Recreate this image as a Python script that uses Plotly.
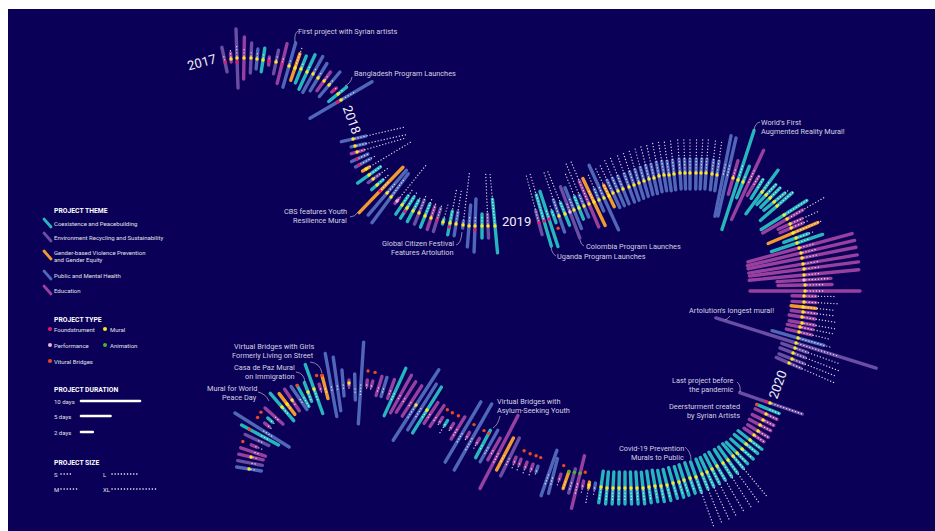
import math
import plotly.graph_objects as go

# ---- timeline sections: spine position of each project, direction of its bar (degrees),
# ---- bar reach either side, reach of the size dots, theme letter and type letter
y2017_x = [225,231,237,244,251,257,263,269,276,282,289,295,301,307,313,318,324,329,334,338,341]
y2017_y = [62,59,58,58,58,59,60,61,62,64,66,68,69,72,74,78,81,85,90,94,100]
y2017_angle = [102,94,92,89,87.5,85,81.5,85,78,76,74,71,68,65,61,58.5,54,50,40,39,30.5]
y2017_up = [15,6,29,21,15,10,12,4,12,21,24,15,14,19,20,17,11,17,3,11,36]
y2017_dn = [10,3,30,21,15,10,12,4,12,20,22,13,15,19,21,15,12,15,3,12,36]
y2017_dots = [8,10,14,10,8,6,6,4,6,8,8,23,8,8,8,8,6,8,5,6,16]
y2017_theme = "EDEDEHCDEDHGCCHHDHDCH"
y2017_type = "FMXMMMMFMFMMMMMMMMFMX"

y2018_x = [353,355,357,357,359,366,369,373,377,380,387,391,397,402,407,413,419,425,431,437,443,450,456,463,469,475,482,488,495]
y2018_y = [139,146,152,159,165,169,175,179,185,191,193,197,201,205,208,211,213,216,218,220,222,223,224,225,226,226,226,226,226]
y2018_angle = [13,12.5,16,24,29,31,35.5,36,41,46,49.5,53.5,51,55.7,57.6,61.7,68,68,71.8,72.5,74,79,81,83,85.4,88,90,92.5,95.4]
y2018_up = [13,11,7,12,13,4,14,8,8,33,30,29,3,11,13,12,14,13,12,12,3,12,12,4,21,27,12,12,27]
y2018_dn = [12,4,6,6,4,4,14,6,7,30,29,32,3,11,12,12,12,12,12,12,2,12,12,3,21,26,12,12,27]
y2018_dots = [52,52,50,12,19,52,17,18,16,12,12,22,48,18,20,17,18,18,17,17,18,34,35,52,10,10,10,53,53]
y2018_theme = "HHDHHGCECGHHDCCCECDECCHHHHCEC"
y2018_type = "MMMFFMMMMFMMPMXMMMMFMXMMMXMMM"

y2019_x = [539,544,549,554,559,565,570,574,579,584,589,594,599,604,609,
           613,618,623,629,634,639,644,649,654,659,664,669,674,680,685,690,696,701,706,712,717,
           723,727,733,738,743,
           748,753,757,762,766,770,774,777,784,787,790,791,793,796,797,799,801,802,803,804,
           804,804,805,805,804,804,803,803,802,802,800,799,798,796,795,793,792,789]
y2019_y = [223,221,219,217,216,214,212,210,208,206,204,202,200,198,196,
           193,191,189,187,185,183,181,179,178,176,175,175,174,173,173,173,173,173,173,174,175,
           176,177,178,180,182,
           184,186,189,192,195,198,202,206,215,219,224,228,233,238,243,248,253,258,264,269,
           275,280,285,291,296,302,307,312,317,323,327,332,338,343,348,353,359,363]
y2019_angle = [105,106.4,108,110,109,112,110.6,112,111.7,113,113,115.4,113,114.5,116,
               115,113.5,112,110,108.5,107,105.5,104,102.5,101,99.5,98,96,94,92,90,89,87,86,84,82,
               78.7,77,74,72,68,
               65.2,59,58,53.8,46.5,45,39.4,41,32.5,30,24,23,22.9,19.6,18.5,15.2,13.2,11.3,9.5,7.4,
               5.5,3.5,1,0,-1,-3,-6,-7,-9,-10,-11.6,-13.1,-15.8,-17.4,-19.5,-21.2,-21.4,-23.6]
y2019_up = [13,27,29,6,17,12,27,24,12,12,25,26,12,36,12,
            14,14,14,14,14,14,14,14,14,14,14,14,14,14,14,14,14,14,14,14,14,
            41,40,18,52,17,
            37,11,11,27,14,14,14,20,27,18,13,13,27,13,27,55,55,55,55,55,
            55,27,27,55,12,12,13,13,13,13,13,13,27,84,13,13,13,13]
y2019_dn = [12,26,29,6,17,12,28,20,12,12,25,26,12,35,12,
            16,16,16,16,16,16,16,16,16,16,16,16,16,16,16,16,16,16,16,16,16,
            41,40,17,52,17,
            39,11,11,27,13,13,13,22,27,28,13,12,27,13,27,53,55,55,55,55,
            55,27,27,55,12,12,12,12,13,13,13,13,27,84,14,14,14,14]
y2019_dots = [49,50,10,12,48,47,10,12,37,47,47,12,28,12,32,
              31,33,33,34,34,35,35,35,35,35,35,35,35,35,35,35,35,35,34,34,33,
              14,14,10,16,8,
              15,13,14,12,16,16,18,22,27,44,30,18,31,18,12,16,16,16,16,16,
              16,24,18,19,33,35,33,33,35,33,33,33,35,45,48,50,47,50]
y2019_theme = ("ECCCHCEHCHDGHHG" "HHHHHHHHHHHHHHHHHHHHH" "HHDCC"
               "DDCCCCCCCDDDGCC" "DDDDDDDDDDD" "G" "DDDDD" "H" "EEEEE")
y2019_type = ("FFFVMMPMMMMMMMM" "MMMMMMMMMMMMMMMMMMMMM" "NNMMM"
              "NNNMMMMMMMMMMMM" "MMMMMMPMMMM" "M" "MMMMM" "M" "MMMMM")

y2020_x = [770,768,766,763,760,758,754,750,746,742,737,733,728,723,717,712,707,702,696,690,684,679,673,667,661,655,649,643,637,631,625,619,613,607,601]
y2020_y = [403,409,414,420,425,431,435,440,444,449,453,456,460,463,466,469,472,474,477,478,480,482,483,485,486,486,487,488,488,488,488,488,488,488,487]
y2020_angle = [-18.9,-21.8,-25.5,-26.6,-27.9,-31.6,-34.3,-38,-39,-41.4,-45,-50,-54,-57.5,-59.4,-62.8,-65,-68,-70.3,-71,-72,-73,-74,-76,-78,-80,-82,-84,-86,-88,-90,-91,-93,-95,-98]
y2020_up = [34,12,12,12,12,12,12,15,15,15,15,16,16,16,16,16,16,16,16,16,16,16,16,16,16,16,16,16,16,16,16,16,16,16,16]
y2020_dn = [32,12,12,12,12,12,12,15,15,15,15,16,16,16,16,16,16,16,16,16,16,16,16,16,16,16,16,16,16,16,16,16,16,16,16]
y2020_dots = [34,12,12,12,12,12,12,14,14,14,14,53,53,53,53,53,53,53,53,14,14,14,14,14,14,14,14,14,14,14,14,14,14,14,14]
y2020_theme = "ECDDDDD" "CCCCCCCCCCCCCCCCCCCCCCCCCCCC"
y2020_type = "XVMMMMM" "MMMMMMMMMMMMMMMMMMMMMMMMMMMM"

late_x = [595,589,583,578,572,566,560,553,549,537,532,526,520,515,510,505,499,494,489,483,478,473,468,463,458,452,446,441,437,431,427,422,416,412,406,401,395,391,384,379,372,367,361,355,349,343,337,331,325,320,314,308,303,299,292,287,282,274,270,267,262,260,257,254,253,251,250,249]
late_y = [486,485,484,482,481,480,477,476,473,469,467,465,462,460,457,454,452,449,446,444,441,437,435,432,428,426,423,420,416,413,410,407,405,401,397,394,392,389,387,386,384,383,383,387,383,383,384,385,387,387,389,392,396,398,400,404,407,416,420,425,430,435,440,446,452,457,463,469]
late_angle = [-100,-100,-101,-103.8,-105.5,-108.8,-108,-104.4,-109.2,-108,
              -110,-110,-110,-110,-116,-117.8,-117.5,-119.7,-119.2,-118.2,
              -120,-119.6,-120,-120.7,-121.6,-122,-122,-122,-124,-123.7,
              -122.2,-122,-122.9,-122.8,-122.3,-119,-114.6,-110,-107,-107,
              -105,-95,-93.7,-88.6,-90,-85.5,-82,-79.6,-75.6,-73.6,
              -70.3,-69,-61,-55.6,-55.7,-52.8,-49.5,-41.8,-41,-38.7,
              -32.2,-28.6,-24.9,-22,-18.9,-13,-10.7,-9]
late_reach = [3,3,3,27,12.5,9,3,18,24,3,3,3,3,3,21,18,41,12.5,18,15.5,3,38,3,35,13,3,3,3,12.5,12.5,27,27,42,18,18,21.5,26,10,10,10,3,3,41,13,3,13,27,32,12,3,26,10,12,14,13,13,18,12,3,3,32,21,13,3,13,12.5,12.5,12.5]
late_dots = [11,18,9,14,10,9,9,10,12,8,9,9,10,9,10,10,14,8,10,8,9,16,8,14,10,8,14,8,8,8,10,12,16,8,8,8,10,8,8,8,8,8,13,8,8,8,8,8,8,8,12,10,12,8,8,8,10,8,8,8,12,10,8,9,8,8,8,8]
late_theme = "HGDDEGDHHH" "DDDDEGDDHC" "DHDHDDCDDD" "CHHDDDCDHD" "DDHHDHHHGD" "CCCHDGCDCD" "HCEDDDEH"
late_type = "NMVAAAVNNV" "VVVNNNNNNV" "VNVNNVVVNN" "MNMNNNNNNN" "VVNNMNNNVV" "MMVNMMMNVV" "NVNVNMNM"

theme_names = ["Coexistence and Peacebuilding", "Environment Recycling and Sustainability",
               "Gender-based Violence Prevention", "and Gender Equity",
               "Public and Mental Health", "Education"]
type_names = ["Foundstrument", "Mural", "Performance", "Animation", "Vitural Bridges"]
duration_days = [10, 5, 2]
size_names = ["S", "L", "M", "XL"]

# ---- styles
NAVY = "#0a0058"
THEME = {"C": "#27b6bd", "E": "#6a4ea3", "G": "#f29a30", "H": "#5067b9", "D": "#97409f"}
TYPE = {"M": "#ffe61e", "F": "#e8186f", "P": "#efb6dc", "A": "#4fb233", "V": "#f0481f"}
TYPE_OFFSET = {"M": 0, "F": 0, "P": 0, "A": -9, "V": -12}
TXT = "#d2d2e0"
BAR_W = 3.4
DOT_DASH = "0.1px,3px"

fig = go.Figure()
theme_xy = {k: ([], []) for k in THEME}
dots_x, dots_y = [], []
marks = {k: ([], []) for k in TYPE}


def add_section(xs, ys, angles, ups, dns, dots, themes, types):
    for i in range(len(xs)):
        a = math.radians(angles[i])
        nx, ny = math.cos(a), -math.sin(a)
        bx, by = theme_xy[themes[i]]
        bx += [xs[i] - nx * dns[i], xs[i] + nx * ups[i], None]
        by += [ys[i] - ny * dns[i], ys[i] + ny * ups[i], None]
        dots_x.extend([xs[i] + nx * 2, xs[i] + nx * dots[i], None])
        dots_y.extend([ys[i] + ny * 2, ys[i] + ny * dots[i], None])
        t = types[i]
        if t == "X":
            marks["M"][0].append(xs[i]); marks["M"][1].append(ys[i])
            marks["F"][0].append(xs[i] - nx * 4); marks["F"][1].append(ys[i] - ny * 4)
        elif t != "N":
            off = TYPE_OFFSET[t]
            marks[t][0].append(xs[i] + nx * off); marks[t][1].append(ys[i] + ny * off)


add_section(y2017_x, y2017_y, y2017_angle, y2017_up, y2017_dn, y2017_dots, y2017_theme, y2017_type)
add_section(y2018_x, y2018_y, y2018_angle, y2018_up, y2018_dn, y2018_dots, y2018_theme, y2018_type)
add_section(y2019_x, y2019_y, y2019_angle, y2019_up, y2019_dn, y2019_dots, y2019_theme, y2019_type)
add_section(y2020_x, y2020_y, y2020_angle, y2020_up, y2020_dn, y2020_dots, y2020_theme, y2020_type)
add_section(late_x, late_y, late_angle, late_reach, late_reach, late_dots, late_theme, late_type)


def line(x, y, color, width, dash=None, name=""):
    fig.add_trace(go.Scatter(x=x, y=y, mode="lines", name=name, hoverinfo="skip", showlegend=False,
                             line=dict(color=color, width=width, dash=dash)))


def points(x, y, color, size=3.4, name=""):
    fig.add_trace(go.Scatter(x=x, y=y, mode="markers", name=name, hoverinfo="skip", showlegend=False,
                             marker=dict(color=color, size=size, line=dict(width=0))))


for k, (x, y) in theme_xy.items():
    line(x, y, THEME[k], BAR_W, name=k)
line(dots_x, dots_y, "rgba(255,255,255,0.85)", 1.3, DOT_DASH, "size")
for k, (x, y) in marks.items():
    points(x, y, TYPE[k], name=k)

# ---- legend marks
for k, y0 in zip("CEGHD", [219, 233, 251, 271, 286]):
    line([44, 51], [y0, y0 + 8], THEME[k], 2.8)
for k, px, py in [("F", 50, 329), ("M", 105, 329), ("P", 50, 345), ("A", 105, 345), ("V", 50, 361)]:
    points([px], [py], TYPE[k], 4)
for d, py in zip(duration_days, [401, 416, 432]):
    line([81, 81 + d * 5.9], [py, py], "white", 2.6)
for px, py, end in [(61, 474, 72), (112, 474, 139), (61, 489, 78), (112, 489, 158)]:
    line([px, end], [py, py], "white", 1.5, DOT_DASH)

# ---- leaders
leaders = [
    "M298,31 Q294,33 295,42", "M352,77 Q351,83 345,86", "M350,217 Q355,217 358,212",
    "M456,245 Q461,244 462,232", "M584,246 Q581,245 580,240", "M556,256 Q552,254 551,247",
    "M760,122 Q755,123 754,130", "M730,316 Q728,319 725,320", "M737,382 Q741,385 740,392",
    "M685,447 Q691,452 691,460", "M500,416 Q498,425 493,428", "M310,362 Q320,363 322,373",
    "M296,372 Q304,373 305,382", "M258,392 Q266,394 269,401",
]
shapes = [dict(type="rect", xref="x", yref="y", x0=8, x1=935, y0=9, y1=531,
               fillcolor=NAVY, line=dict(width=0), layer="below")]
shapes += [dict(type="path", path=p, xref="x", yref="y", line=dict(color="#b9b9cf", width=0.7)) for p in leaders]

# ---- text
annotations = []


def label(text, x, y, anchor="left", size=7.35, color=TXT, bold=False, angle=0):
    shift = {"left": -2, "right": 2, "center": 0}[anchor]
    annotations.append(dict(text=f"<b>{text}</b>" if bold else text, x=x, y=y, xref="x", yref="y",
                            xanchor=anchor, yanchor="middle", showarrow=False, textangle=angle, xshift=shift,
                            font=dict(family="Roboto", size=size, color=color)))


label("First project with Syrian artists", 298, 31)
label("Bangladesh Program Launches", 354, 73)
label("CBS features Youth", 347, 211, "right")
label("Resilience Mural", 347, 220, "right")
label("Global Citizen Festival", 454, 243, "right")
label("Features Artolution", 454, 252, "right")
label("Colombia Program Launches", 586, 246)
label("Uganda Program Launches", 557, 256)
label("World's First", 761, 122)
label("Augmented Reality Mural!", 761, 131)
label("Artolution's longest mural!", 689, 310)
label("Last project before", 734, 380, "right")
label("the pandemic", 734, 389, "right")
label("Deersturment created", 740, 406, "right")
label("by Syrian Artists", 740, 415, "right")
label("Covid-19 Prevention", 684, 448, "right")
label("Murals to Public", 684, 457, "right")
label("Virtual Bridges with", 497, 401)
label("Asylum-Seeking Youth", 497, 410)
label("Virtual Bridges with Girls", 314, 346, "right")
label("Formerly Living on Street", 314, 355, "right")
label("Casa de Paz Mural", 295, 367, "right")
label("on Immigration", 295, 376, "right")
label("Mural for World", 257, 388, "right")
label("Peace Day", 257, 397, "right")

label("2017", 201, 62, "center", 13, "#f0f0f6", angle=-15)
label("2018", 352, 119, "center", 13, "#f0f0f6", angle=70)
label("2019", 516, 221, "center", 13, "#f0f0f6")
label("2020", 777, 385, "center", 13, "#f0f0f6", angle=-70)

LEG = "#e0e0ea"
label("PROJECT THEME", 54, 211, size=6.8, color="white", bold=True)
for t, y0 in zip(theme_names, [223, 237, 252, 259.5, 275, 290]):
    label(t, 54, y0, size=6, color=LEG)
label("PROJECT TYPE", 54, 319.5, size=6.8, color="white", bold=True)
for t, px, py in zip(type_names, [54, 110, 54, 110, 54], [329, 329, 345, 345, 361]):
    label(t, px, py, size=6, color=LEG)
label("PROJECT DURATION", 54, 390, size=6.8, color="white", bold=True)
for d, py in zip(duration_days, [401, 416, 432]):
    label(f"{d} days", 54, py, size=6, color=LEG)
label("PROJECT SIZE", 54, 463, size=6.8, color="white", bold=True)
for t, px, py in zip(size_names, [54, 103, 54, 103], [474, 474, 489, 489]):
    label(t, px, py, size=6, color=LEG)

fig.update_layout(
    width=935, height=531, autosize=False,
    margin=dict(l=0, r=0, t=0, b=0),
    paper_bgcolor="white", plot_bgcolor="white",
    xaxis=dict(range=[0, 935], visible=False, fixedrange=True),
    yaxis=dict(range=[531, 0], visible=False, fixedrange=True),
    shapes=shapes, annotations=annotations, showlegend=False,
)
css = ("var s=document.createElement('style');"
       "s.textContent='html,body{margin:0;padding:0;overflow:hidden}.js-line{stroke-linecap:round}';"
       "document.head.appendChild(s);")
fig.write_html("out.html", post_script=css, config={"displayModeBar": False})
